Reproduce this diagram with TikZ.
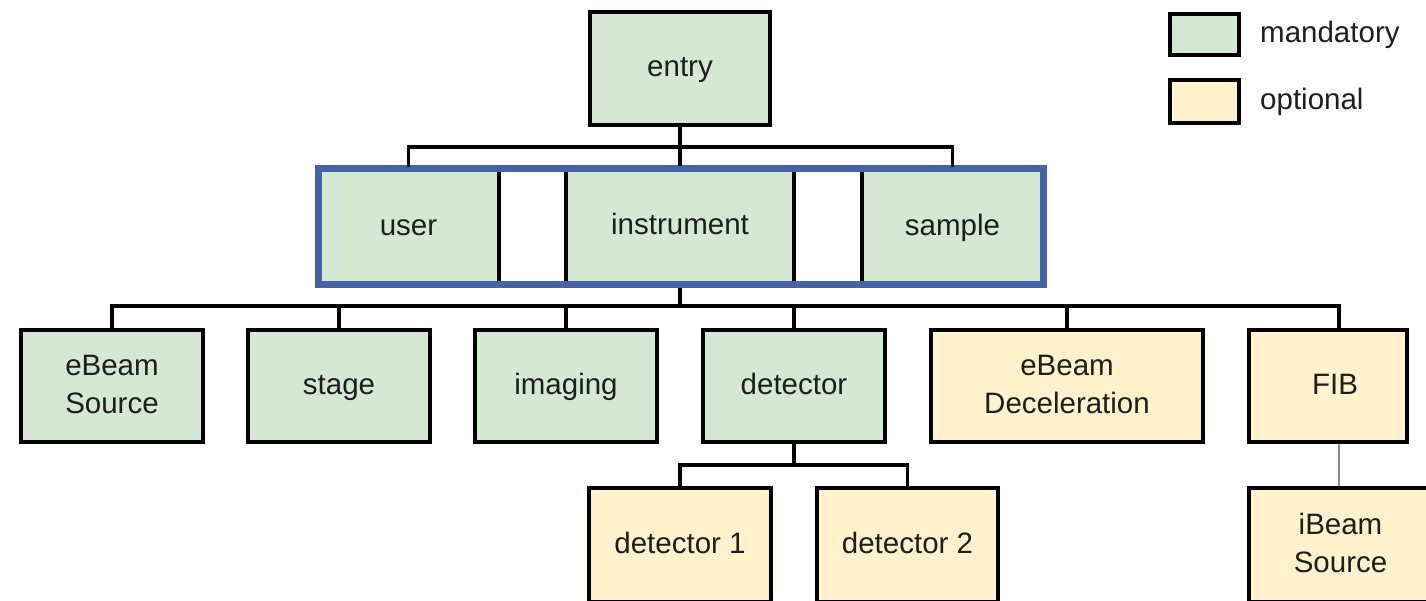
\documentclass[tikz,border=0pt]{standalone}
\usepackage{fontspec}
\setmainfont{Liberation Sans}
\definecolor{mandfill}{HTML}{D5E8D4}
\definecolor{optfill}{HTML}{FFF2CC}
\definecolor{framebl}{RGB}{69,99,168}
\definecolor{txt}{HTML}{1E1E1E}
\newcommand\bstrut{\rule[-0.22em]{0pt}{1em}}
\tikzset{
  box/.style={draw=black, line width=3.8pt, inner sep=0pt, align=center,
    text=txt, font=\fontsize{29.5}{38}\selectfont},
  mand/.style={box, fill=mandfill},
  opt/.style={box, fill=optfill},
  wire/.style={draw=black, line width=3.8pt, line join=miter},
  softwire/.style={draw=gray!90, line width=2.2pt},
  legendtext/.style={anchor=west, inner sep=0pt, text=txt,
    font=\fontsize{29.5}{38}\selectfont},
}
\begin{document}
\begin{tikzpicture}[x=1pt, y=-1pt]
\fill[white] (0,0) rectangle (1426,600);
\useasboundingbox (0,0) rectangle (1426,600);

% legend
\node[mand, minimum width=69pt, minimum height=41pt, line width=4.2pt] (legM) at (1204.5,34.5) {};
\node[opt, minimum width=69pt, minimum height=43pt, line width=4.2pt] (legO) at (1204.5,101.5) {};
\node[legendtext] (legMt) at (1260,34.5) {\bstrut mandatory};
\node[legendtext] (legOt) at (1260,101.5) {\bstrut optional};

% root
\node[mand, minimum width=180pt, minimum height=113pt] (entry) at (680,68.5) {\bstrut entry};

% first level
\node[mand, minimum width=181pt, minimum height=116pt] (user) at (408.5,227) {\bstrut user};
\node[mand, minimum width=228pt, minimum height=116pt] (instrument) at (680,226) {\bstrut instrument};
\node[mand, minimum width=181pt, minimum height=116pt] (sample) at (952.5,227) {\bstrut sample};
\node[draw=framebl, line width=7pt, minimum width=725pt, minimum height=116pt, inner sep=0pt] (grp) at (680.5,226) {};

% second level
\node[mand, minimum width=182pt, minimum height=112pt] (ebs) at (112,386) {\bstrut eBeam\\Source\bstrut};
\node[mand, minimum width=182pt, minimum height=112pt] (stage) at (339,386) {\bstrut stage};
\node[mand, minimum width=182pt, minimum height=112pt] (imaging) at (566,386) {\bstrut imaging};
\node[mand, minimum width=182pt, minimum height=112pt] (detector) at (794,386) {\bstrut detector};
\node[opt, minimum width=272pt, minimum height=112pt] (decel) at (1067,386) {\bstrut eBeam\\Deceleration\bstrut};
\node[opt, minimum width=158pt, minimum height=112pt] (fib) at (1328,386) {\bstrut\hspace*{14pt}FIB};

% third level
\node[opt, minimum width=182pt, minimum height=114pt] (det1) at (680,545) {\bstrut detector 1};
\node[opt, minimum width=181pt, minimum height=114pt] (det2) at (907.5,545) {\bstrut detector 2};
\node[opt, minimum width=183pt, minimum height=114pt] (ibeam) at (1340.5,545) {\bstrut iBeam\\Source\bstrut};

% bus levels
\coordinate (busA) at (680,147);
\coordinate (busB) at (680,306);
\coordinate (busC) at (794,465);
\coordinate (fibtop) at (1339,330);

% entry -> first level
\draw[wire] (user.north) -- (user.north |- busA) -- (sample.north |- busA) -- (sample.north);
\draw[wire] (entry.south) -- (instrument.north);

% instrument -> second level
\draw[wire] (grp.south -| busB) -- (busB);
\draw[wire] (ebs.north) -- (ebs.north |- busB) -- (fibtop |- busB) -- (fibtop);
\foreach \n in {stage,imaging,detector,decel}
  \draw[wire] (\n.north) -- (\n.north |- busB);

% detector -> third level
\draw[wire] (det1.north) -- (det1.north |- busC) -- (det2.north |- busC) -- (det2.north);
\draw[wire] (detector.south) -- (busC);

% FIB -> iBeam source
\draw[softwire] (fib.south -| fibtop) -- (ibeam.north -| fibtop);
\end{tikzpicture}
\end{document}
